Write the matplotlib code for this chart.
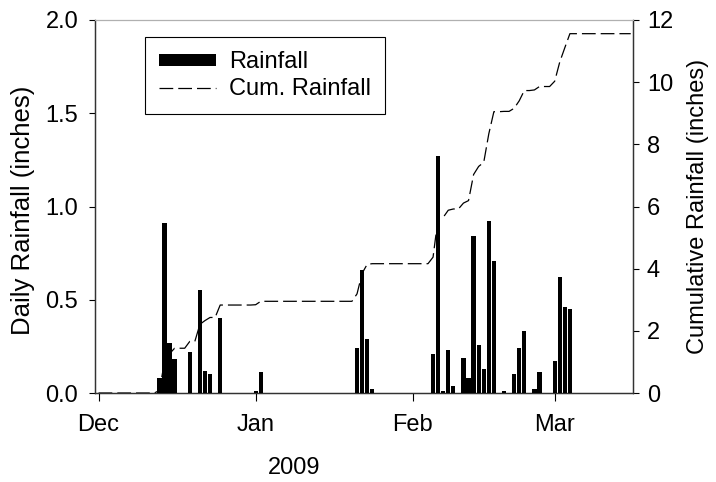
import numpy as np
import matplotlib
matplotlib.use("Agg")
import matplotlib.pyplot as plt
import matplotlib.dates as mdates
import datetime as dt

plt.rcParams['font.family'] = ['Liberation Sans', 'DejaVu Sans']

# Daily rainfall (inches)
rain_dates = [
    "2008-12-13", "2008-12-14", "2008-12-15", "2008-12-16", "2008-12-19",
    "2008-12-21", "2008-12-22", "2008-12-23", "2008-12-25",
    "2009-01-01", "2009-01-02", "2009-01-21", "2009-01-22", "2009-01-23", "2009-01-24",
    "2009-02-05", "2009-02-06", "2009-02-07", "2009-02-08", "2009-02-09",
    "2009-02-11", "2009-02-12", "2009-02-13", "2009-02-14", "2009-02-15",
    "2009-02-16", "2009-02-17", "2009-02-19", "2009-02-21", "2009-02-22",
    "2009-02-23", "2009-02-25", "2009-02-26",
    "2009-03-01", "2009-03-02", "2009-03-03", "2009-03-04",
]
rain_values = [
    0.08, 0.91, 0.27, 0.18, 0.22,
    0.55, 0.12, 0.10, 0.40,
    0.01, 0.11, 0.24, 0.66, 0.29, 0.02,
    0.21, 1.27, 0.01, 0.23, 0.04,
    0.19, 0.08, 0.84, 0.26, 0.13,
    0.92, 0.71, 0.01, 0.10, 0.24,
    0.33, 0.02, 0.11,
    0.17, 0.62, 0.46, 0.45,
]
period_start = "2008-12-01"
period_end = "2009-03-16"
month_ticks = ["2008-12-01", "2009-01-01", "2009-02-01", "2009-03-01"]
month_labels = ["Dec", "Jan", "Feb", "Mar"]

# cumulative series derived from daily values
start = dt.date.fromisoformat(period_start)
end = dt.date.fromisoformat(period_end)
ndays = (end - start).days + 1
all_days = [start + dt.timedelta(days=i) for i in range(ndays)]
daily = np.zeros(ndays)
for d, v in zip(rain_dates, rain_values):
    daily[(dt.date.fromisoformat(d) - start).days] += v
cum = np.cumsum(daily)

x_bars = mdates.date2num([dt.date.fromisoformat(d) for d in rain_dates])
x_days = mdates.date2num(all_days)
x0 = mdates.date2num(start)

FS = 17

fig = plt.figure(figsize=(7.16, 4.82), dpi=100)
ax = fig.add_axes([95/716, 1-393/482, 538/716, 373/482])
ax2 = ax.twinx()

bars = ax.bar(x_bars, rain_values, width=0.85, color='black', edgecolor='none',
              label='Rainfall', zorder=3)
line, = ax2.plot(x_days, cum, color='black', lw=0.9, dashes=(11, 4),
                 label='Cum. Rainfall')

ax.set_xlim(x0 - 0.7, x0 + 105.45)
ax.set_ylim(0, 2.0)
ax2.set_ylim(0, 12)
ax.set_yticks([0, 0.5, 1.0, 1.5, 2.0])
ax.set_yticklabels(["0.0", "0.5", "1.0", "1.5", "2.0"])
ax2.set_yticks([0, 2, 4, 6, 8, 10, 12])
ax.set_xticks(mdates.date2num([dt.date.fromisoformat(d) for d in month_ticks]))
ax.set_xticklabels(month_labels)

for a in (ax, ax2):
    a.tick_params(axis='both', direction='out', length=4, width=0.8, colors='black')
ax.tick_params(axis='y', labelsize=FS, pad=8)
ax.tick_params(axis='x', labelsize=FS, pad=9, length=6)
ax2.tick_params(axis='y', labelsize=FS, pad=6)

for a in (ax, ax2):
    a.spines['top'].set_color('#b0b0b0')
    a.spines['top'].set_linewidth(0.8)
    for s in ('left', 'right', 'bottom'):
        a.spines[s].set_color('#333333')
        a.spines[s].set_linewidth(0.9)

ax.set_ylabel("Daily Rainfall (inches)", fontsize=18.5)
ax.yaxis.set_label_coords(-0.112, 0.49)
ax2.set_ylabel("Cumulative Rainfall (inches)", fontsize=FS, labelpad=10)
fig.text(294/716, 1-468/482, "2009", fontsize=FS, ha='center', va='center')

leg = ax.legend([bars, line], ['Rainfall', 'Cum. Rainfall'],
                loc='upper left', bbox_to_anchor=(0.093, 0.954), borderaxespad=0,
                fontsize=FS, fancybox=False, edgecolor='black', framealpha=1,
                handlelength=2.4, handleheight=0.45, handletextpad=0.55,
                labelspacing=0.2, borderpad=0.6)
leg.get_frame().set_linewidth(0.8)
ax.set_zorder(ax2.get_zorder() + 1)
ax.patch.set_visible(False)

fig.savefig("out.png", dpi=100)
